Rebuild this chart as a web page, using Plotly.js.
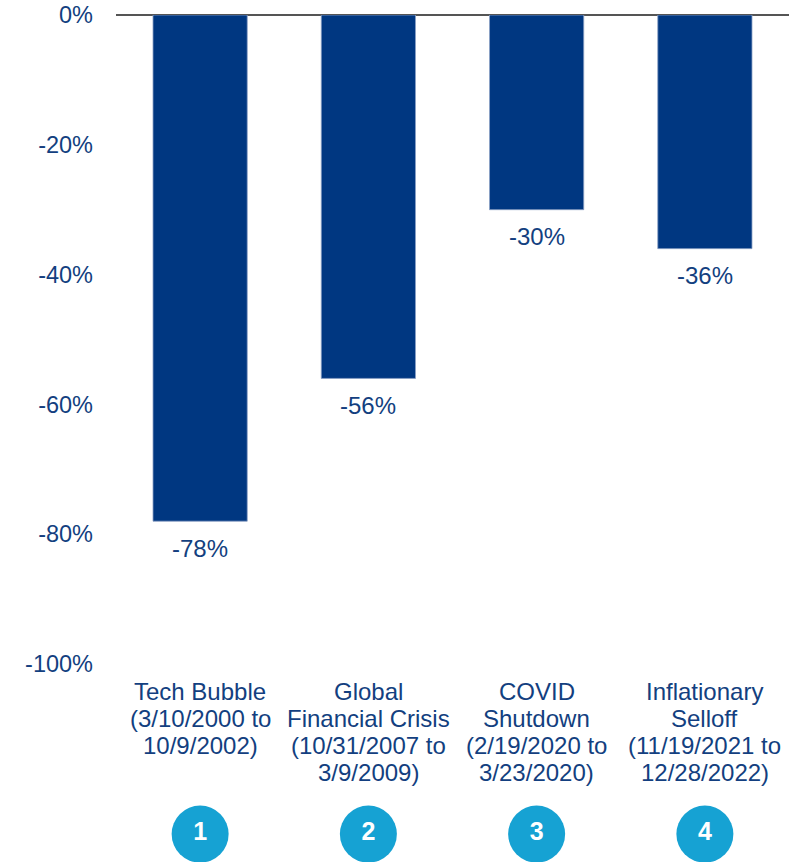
<!DOCTYPE html>
<html>
<head>
<meta charset="utf-8">
<script src="https://cdn.plot.ly/plotly-3.0.1.min.js"></script>
<style>html,body{margin:0;padding:0;background:#fff;}</style>
</head>
<body>
<div id="chart" style="width:812px;height:862px;"></div>
<script>
var categories = [
  "Tech Bubble|(3/10/2000 to|10/9/2002)",
  "Global|Financial Crisis|(10/31/2007 to|3/9/2009)",
  "COVID|Shutdown|(2/19/2020 to|3/23/2020)",
  "Inflationary|Selloff|(11/19/2021 to|12/28/2022)"
];
var drawdowns = [-78, -56, -30, -36];
var valueLabels = ["-78%", "-56%", "-30%", "-36%"];
var badgeNumbers = ["1", "2", "3", "4"];
var yTicks = [0, -20, -40, -60, -80, -100];

var barColor = "#003781";
var textColor = "#133f80";
var badgeColor = "#16a2d3";
var fontFam = "Liberation Sans, Arial, sans-serif";
var plotBottom = 0.2338;

var traces = [
  {
    type: "bar",
    x: categories,
    y: drawdowns,
    marker: {color: barColor, line: {color: "#8aa0c4", width: 0.8}},
    width: 0.56,
    hoverinfo: "none",
    xaxis: "x",
    yaxis: "y"
  },
  {
    type: "scatter",
    mode: "markers+text",
    x: categories,
    y: badgeNumbers.map(function(){ return 0.5; }),
    text: badgeNumbers,
    textposition: "middle center",
    textfont: {family: fontFam, size: 25, color: "#ffffff", weight: "bold"},
    marker: {size: 57, color: badgeColor, line: {width: 0}},
    hoverinfo: "none",
    cliponaxis: false,
    xaxis: "x",
    yaxis: "y2"
  }
];

var annotations = drawdowns.map(function(v, i){
  return {
    x: categories[i], y: v, xref: "x", yref: "y",
    text: valueLabels[i], showarrow: false,
    yanchor: "middle", yshift: -27,
    font: {family: fontFam, size: 24, color: textColor}
  };
});

categories.forEach(function(c){
  c.split("|").forEach(function(line, k){
    annotations.push({
      x: c, y: plotBottom, xref: "x", yref: "paper",
      text: line, showarrow: false,
      yanchor: "middle", yshift: -(28 + 27 * k),
      font: {family: fontFam, size: 24, color: textColor}
    });
  });
});

var layout = {
  width: 812, height: 862,
  margin: {l: 116, r: 23, t: 15, b: 0},
  paper_bgcolor: "#ffffff",
  plot_bgcolor: "#ffffff",
  showlegend: false,
  bargap: 0.44,
  font: {family: fontFam, size: 24, color: textColor},
  xaxis: {
    type: "category",
    range: [-0.5, 3.5],
    showgrid: false, zeroline: false, showline: false,
    ticks: "", showticklabels: false,
    anchor: "y", fixedrange: true
  },
  yaxis: {
    domain: [plotBottom, 1],
    range: [-100, 0],
    tickvals: yTicks,
    ticktext: yTicks.map(function(t){ return t + "%"; }),
    showgrid: false,
    zeroline: true, zerolinecolor: "#555555", zerolinewidth: 2,
    showline: false, ticks: "", ticklabelstandoff: 22,
    tickfont: {family: fontFam, size: 23.5, color: textColor},
    fixedrange: true
  },
  yaxis2: {
    domain: [0, 0.066],
    range: [0, 1],
    visible: false,
    anchor: "x", fixedrange: true
  },
  annotations: annotations
};

Plotly.newPlot("chart", traces, layout, {displayModeBar: false, staticPlot: true});
</script>
</body>
</html>
